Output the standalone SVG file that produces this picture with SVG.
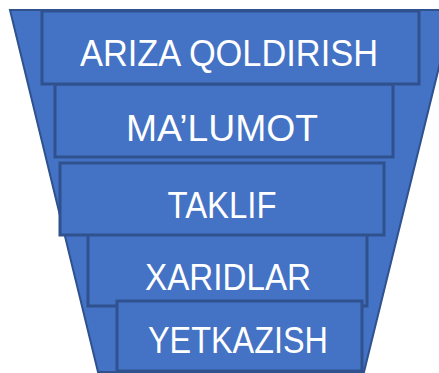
<svg xmlns="http://www.w3.org/2000/svg" width="439" height="373" viewBox="0 0 439 373">
<style>
.shape{fill:#4472C4;stroke:#2F528F;stroke-width:3}
.funnel{fill:#4472C4;stroke:#2F528F;stroke-width:2}
.lbl{font-family:"Liberation Sans",Arial,sans-serif;font-size:36px;fill:#FFFFFF;text-anchor:middle}
</style>
<rect width="439" height="373" fill="#FFFFFF"/>
<g id="funnel"><polygon class="funnel" points="10,10 453,10 364,372 98,372"/></g>
<g id="connectors"></g>
<g id="node-malumot"><rect class="shape" x="55" y="84" width="338" height="73"/><text class="lbl" x="222" y="141" textLength="192" lengthAdjust="spacingAndGlyphs">MA’LUMOT</text></g>
<g id="node-ariza"><rect class="shape" x="42" y="11" width="377" height="73"/><text class="lbl" x="229" y="66" textLength="298" lengthAdjust="spacingAndGlyphs">ARIZA QOLDIRISH</text></g>
<g id="node-xaridlar"><rect class="shape" x="88" y="230" width="279" height="76"/><text class="lbl" x="228" y="290" textLength="166" lengthAdjust="spacingAndGlyphs">XARIDLAR</text></g>
<g id="node-taklif"><rect class="shape" x="60" y="163" width="324" height="72"/><text class="lbl" x="222" y="218" textLength="109" lengthAdjust="spacingAndGlyphs">TAKLIF</text></g>
<g id="node-yetkazish"><rect class="shape" x="117" y="301" width="245" height="70"/><text class="lbl" x="238" y="353" textLength="180" lengthAdjust="spacingAndGlyphs">YETKAZISH</text></g>
</svg>
